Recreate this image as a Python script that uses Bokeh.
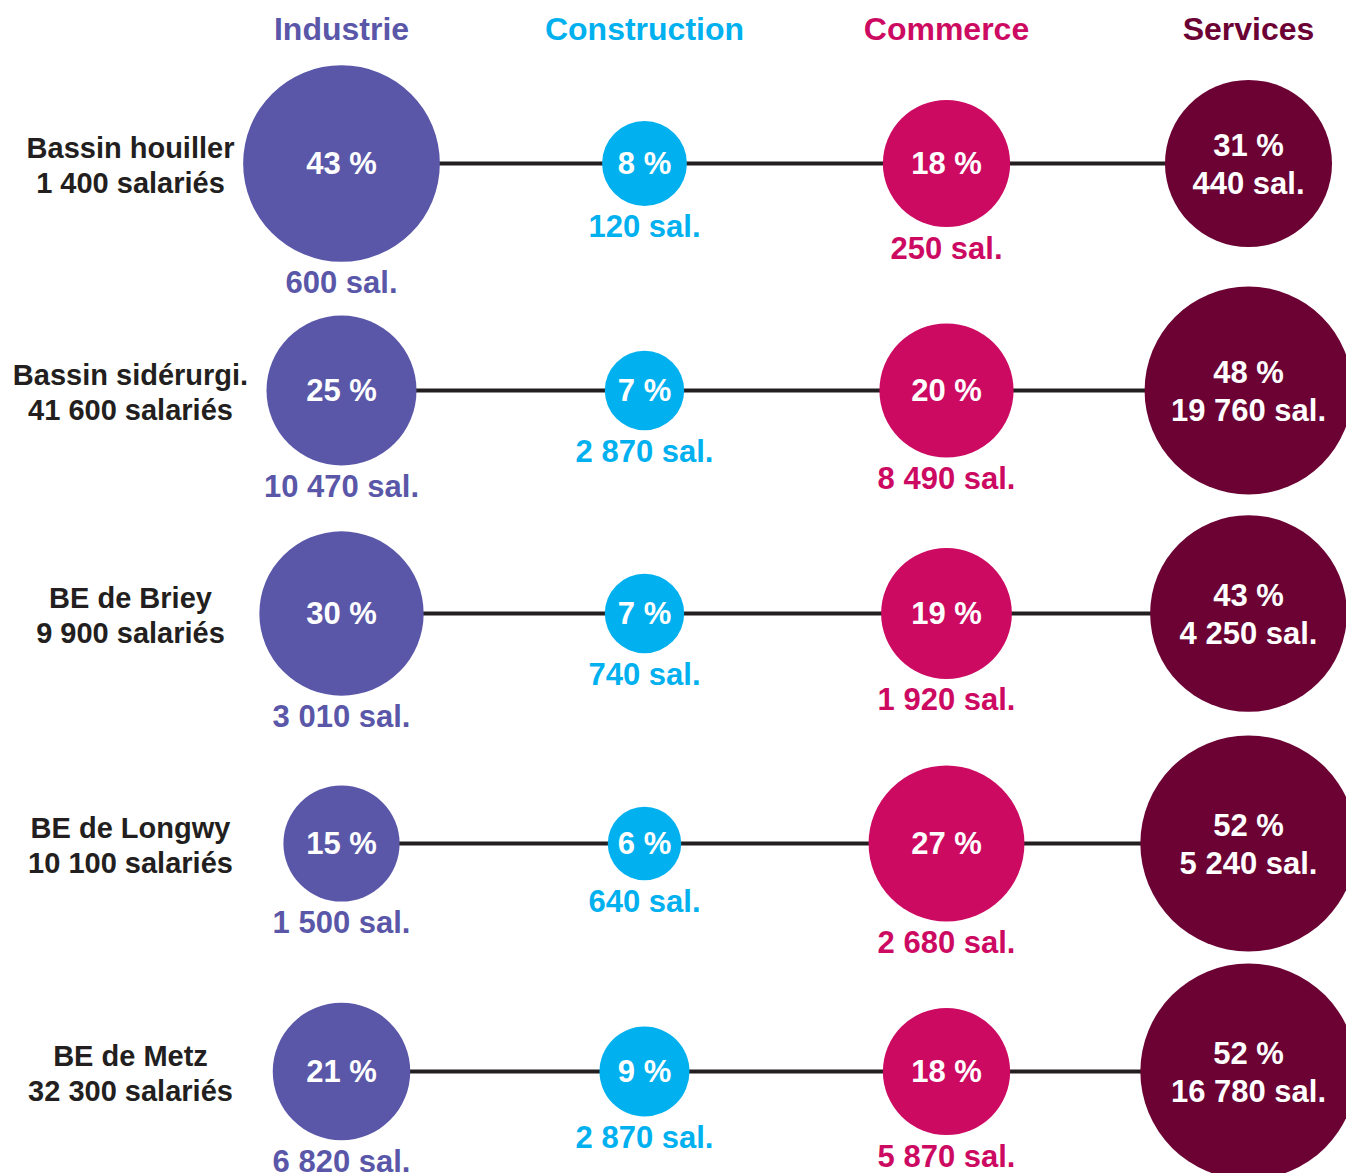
import math
from bokeh.plotting import figure
from bokeh.models import ColumnDataSource, Range1d
from bokeh.core.properties import value
from bokeh.embed import file_html
from bokeh.resources import INLINE

# ---------------- data ----------------
sectors = ["Industrie", "Construction", "Commerce", "Services"]
zones = ["Bassin houiller", "Bassin sidérurgi.", "BE de Briey", "BE de Longwy", "BE de Metz"]
zone_totals = ["1 400 salariés", "41 600 salariés", "9 900 salariés", "10 100 salariés", "32 300 salariés"]

industrie_pct = [43, 25, 30, 15, 21]
construction_pct = [8, 7, 7, 6, 9]
commerce_pct = [18, 20, 19, 27, 18]
services_pct = [31, 48, 43, 52, 52]

industrie_sal = ["600", "10 470", "3 010", "1 500", "6 820"]
construction_sal = ["120", "2 870", "740", "640", "2 870"]
commerce_sal = ["250", "8 490", "1 920", "2 680", "5 870"]
services_sal = ["440", "19 760", "4 250", "5 240", "16 780"]

# ---------------- layout / style ----------------
sector_colors = ["#5A57A9", "#00B0EF", "#CD0A62", "#6B0233"]
col_x = [341, 644, 946, 1248]
row_y = [163, 390, 613, 843, 1071]
header_y = 28
label_x = 130
K = 15.0  # px per sqrt(percent) -> circle area proportional to share
FONT = value("Liberation Sans")

pcts = [industrie_pct, construction_pct, commerce_pct, services_pct]
sals = [industrie_sal, construction_sal, commerce_sal, services_sal]

W, H = 1346, 1173
p = figure(width=W, height=H, output_backend="svg", toolbar_location=None,
           x_range=Range1d(0, W), y_range=Range1d(H, 0),
           min_border=0, outline_line_color=None)
p.axis.visible = False
p.grid.visible = False
p.background_fill_color = "white"
p.border_fill_color = "white"

# connecting lines
seg = ColumnDataSource(dict(x0=[col_x[0]] * len(zones), x1=[col_x[-1]] * len(zones), y=row_y))
p.segment(x0="x0", y0="y", x1="x1", y1="y", source=seg, line_color="#231F20", line_width=4)

# circles and labels
cx, cy, cr, cc = [], [], [], []
in_x, in_y, in_t = [], [], []
out_x, out_y, out_t, out_c = [], [], [], []
for j, sec in enumerate(sectors):
    for i, z in enumerate(zones):
        pct = pcts[j][i]
        r = K * math.sqrt(pct)
        x, y = col_x[j], row_y[i]
        cx.append(x); cy.append(y); cr.append(r); cc.append(sector_colors[j])
        if j < 3:
            in_x.append(x); in_y.append(y); in_t.append(f"{pct} %")
            out_x.append(x); out_y.append(y + r + 21); out_t.append(f"{sals[j][i]} sal."); out_c.append(sector_colors[j])
        else:
            in_x.append(x); in_y.append(y - 18); in_t.append(f"{pct} %")
            in_x.append(x); in_y.append(y + 20); in_t.append(f"{sals[j][i]} sal.")

p.circle(x="x", y="y", radius="r", source=ColumnDataSource(dict(x=cx, y=cy, r=cr, c=cc)),
         fill_color="c", line_color=None)

p.text(x="x", y="y", text="t", source=ColumnDataSource(dict(x=in_x, y=in_y, t=in_t)),
       text_color="white", text_font=FONT, text_font_style="bold", text_font_size="31px",
       text_align="center", text_baseline="middle")
p.text(x="x", y="y", text="t", source=ColumnDataSource(dict(x=out_x, y=out_y, t=out_t, c=out_c)),
       text_color="c", text_font=FONT, text_font_style="bold", text_font_size="31px",
       text_align="center", text_baseline="middle")

# headers
p.text(x="x", y="y", text="t",
       source=ColumnDataSource(dict(x=col_x, y=[header_y] * 4, t=sectors, c=sector_colors)),
       text_color="c", text_font=FONT, text_font_style="bold", text_font_size="32px",
       text_align="center", text_baseline="middle")

# row labels
p.text(x="x", y="y", text="t",
       source=ColumnDataSource(dict(x=[label_x] * len(zones), y=[y - 16 for y in row_y], t=zones)),
       text_color="#231F20", text_font=FONT, text_font_style="bold", text_font_size="29px",
       text_align="center", text_baseline="middle")
p.text(x="x", y="y", text="t",
       source=ColumnDataSource(dict(x=[label_x] * len(zones), y=[y + 19 for y in row_y], t=zone_totals)),
       text_color="#231F20", text_font=FONT, text_font_style="bold", text_font_size="29px",
       text_align="center", text_baseline="middle")

open("out.html", "w").write(file_html(p, INLINE))
